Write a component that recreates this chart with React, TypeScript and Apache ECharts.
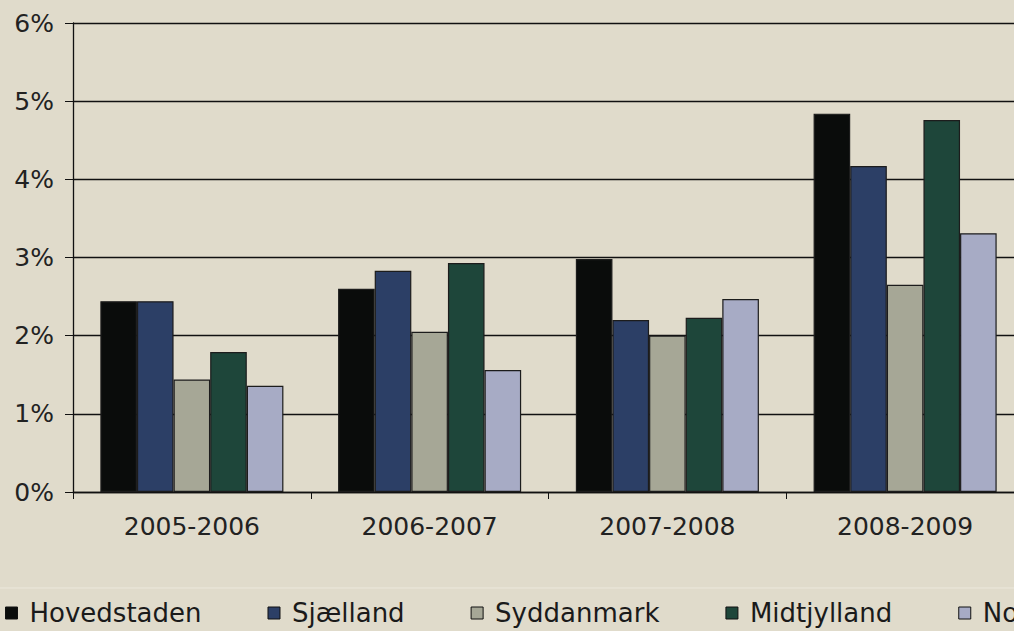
import React, { useEffect, useRef } from "react";
import * as echarts from "echarts";

const categories = ["2005-2006", "2006-2007", "2007-2008", "2008-2009"];
const seriesNames = ["Hovedstaden", "Sjælland", "Syddanmark", "Midtjylland", "Nordjylland"];
const hovedstaden = [2.44, 2.6, 2.98, 4.84];
const sjaelland = [2.44, 2.83, 2.2, 4.17];
const syddanmark = [1.44, 2.05, 2.0, 2.65];
const midtjylland = [1.79, 2.93, 2.23, 4.76];
const nordjylland = [1.36, 1.56, 2.47, 3.31];
const seriesValues = [hovedstaden, sjaelland, syddanmark, midtjylland, nordjylland];
const colors = ["#0a0c0b", "#2c3f66", "#a6a796", "#1e463a", "#a7abc5"];

export default function App() {
  const ref = useRef<HTMLDivElement>(null);
  useEffect(() => {
    if (!ref.current) return;
    const chart = echarts.init(ref.current, undefined, { renderer: "svg" });
    const font = "'DejaVu Sans', Verdana, sans-serif";
    chart.setOption({
      animation: false,
      backgroundColor: "#e0dbcb",
      grid: {
        left: 73,
        top: 23,
        height: 469,
        width: 951,
        containLabel: false,
        outerBoundsMode: "none",
      },
      legend: {
        left: 5,
        top: 600,
        width: 1400,
        padding: 0,
        orient: "horizontal",
        icon: "rect",
        itemWidth: 12,
        itemHeight: 12,
        itemGap: 66,
        itemStyle: { borderColor: "#111", borderWidth: 1 },
        textStyle: { fontFamily: font, fontSize: 26, color: "#1a1a1a", padding: [0, 0, 0, 7] },
        data: seriesNames,
      },
      xAxis: {
        type: "category",
        data: categories,
        axisLine: { lineStyle: { color: "#111", width: 1.3 } },
        axisTick: { show: true, length: 7, lineStyle: { color: "#111" } },
        axisLabel: { fontFamily: font, fontSize: 25, color: "#222", margin: 22 },
      },
      yAxis: {
        type: "value",
        min: 0,
        max: 6,
        interval: 1,
        axisLine: { show: true, lineStyle: { color: "#111", width: 1.3 } },
        axisTick: { show: true, inside: false, length: 8, lineStyle: { color: "#111" } },
        axisLabel: {
          fontFamily: font,
          fontSize: 25,
          color: "#222",
          margin: 19,
          formatter: (v: number) => v + "%",
        },
        splitLine: { show: true, lineStyle: { color: "#111", width: 1.3 } },
      },
      series: seriesNames.map((name, i) => ({
        name,
        type: "bar",
        data: seriesValues[i],
        barGap: "0%",
        barCategoryGap: "23%",
        itemStyle: { color: colors[i], borderColor: "#1c1c1c", borderWidth: 1.2 },
      })),
      graphic: [
        {
          type: "line",
          shape: { x1: 0, y1: 588, x2: 1014, y2: 588 },
          style: { stroke: "#ece8dc", lineWidth: 1 },
        },
      ],
    });
    return () => chart.dispose();
  }, []);
  return <div ref={ref} style={{ width: 1014, height: 631, position: "absolute", left: 0, top: 0 }} />;
}
